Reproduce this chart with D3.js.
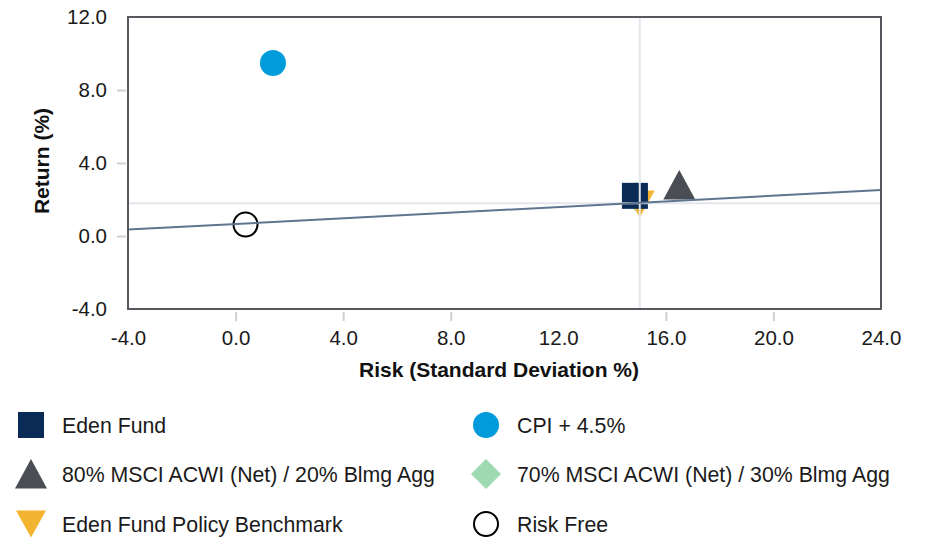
<!DOCTYPE html>
<html>
<head>
<meta charset="utf-8">
<script src="https://cdn.jsdelivr.net/npm/d3@7/dist/d3.min.js"></script>
<style>
  html, body { margin: 0; padding: 0; background: #fff; }
  svg { display: block; font-family: "Liberation Sans", Arial, sans-serif; }
</style>
</head>
<body>
<svg id="chart" width="926" height="540"></svg>
<script>
// ---- data ----
const seriesNames = ["Risk Free", "80% MSCI ACWI (Net) / 20% Blmg Agg", "70% MSCI ACWI (Net) / 30% Blmg Agg", "Eden Fund Policy Benchmark", "CPI + 4.5%", "Eden Fund"];
const riskValues   = [0.37, 16.5, 14.9, 15.03, 1.39, 14.85];
const returnValues = [0.63, 2.8, 2.15, 1.75, 9.48, 2.2];
const xTicks = [-4, 0, 4, 8, 12, 16, 20, 24];
const yTicks = [-4, 0, 4, 8, 12];
const benchmarkCross = [15.03, 1.8];          // crosshair at benchmark
const marketLineX = [-4, 24];
const marketLineY = [0.35, 2.52];
const legendOrder = ["Eden Fund", "CPI + 4.5%", "80% MSCI ACWI (Net) / 20% Blmg Agg", "70% MSCI ACWI (Net) / 30% Blmg Agg", "Eden Fund Policy Benchmark", "Risk Free"];

// ---- styles ----
const style = {
  "Eden Fund": { shape: "square", fill: "#0a2b55" },
  "CPI + 4.5%": { shape: "circle", fill: "#009bdb" },
  "80% MSCI ACWI (Net) / 20% Blmg Agg": { shape: "triangle", fill: "#4a4e54" },
  "70% MSCI ACWI (Net) / 30% Blmg Agg": { shape: "diamond", fill: "#9dd9b1" },
  "Eden Fund Policy Benchmark": { shape: "triangle-down", fill: "#f2b431" },
  "Risk Free": { shape: "circle-open", fill: "#fff", stroke: "#000" }
};

function symbolPath(shape) {
  switch (shape) {
    case "square": return "M-13,-13H13V13H-13Z";
    case "triangle": return "M0,-15L16,14.5H-16Z";
    case "triangle-down": return "M-15,-13.5H15L0,13.5Z";
    case "diamond": return "M0,-15L15,0L0,15L-15,0Z";
    case "circle": return "M-13,0A13,13 0 1,0 13,0A13,13 0 1,0 -13,0Z";
    case "circle-open": return "M-12,0A12,12 0 1,0 12,0A12,12 0 1,0 -12,0Z";
  }
}

const fmt = v => d3.format(".1f")(v).replace("\u2212", "-");

const svg = d3.select("#chart");
const L = 128, R = 881, T = 17, B = 309;
const x = d3.scaleLinear().domain([-4, 24]).range([L, R]);
const y = d3.scaleLinear().domain([-4, 12]).range([B, T]);

// frame
svg.append("rect").attr("x", L).attr("y", T).attr("width", R - L).attr("height", B - T)
  .attr("fill", "#fff").attr("stroke", "#55585c").attr("stroke-width", 2);

// axes
const xAxis = d3.axisBottom(x).tickValues(xTicks).tickFormat(fmt).tickSizeInner(9).tickSizeOuter(0).tickPadding(9);
const gx = svg.append("g").attr("transform", `translate(0,${B + 3})`).call(xAxis);
const yAxis = d3.axisLeft(y).tickValues(yTicks).tickFormat(fmt).tickSizeInner(9).tickSizeOuter(0).tickPadding(10);
const gy = svg.append("g").attr("transform", `translate(${L - 2},0)`).call(yAxis);
[gx, gy].forEach(g => {
  g.select(".domain").remove();
  g.selectAll(".tick line").attr("stroke", "#d0d0d0").attr("stroke-width", 2)
    .attr("display", d => (d === -4 || d === 24 || d === 12) ? "none" : null);
  g.selectAll(".tick text").attr("fill", "#1a1a1a").style("font-size", "20.5px");
});

// axis titles
svg.append("text").attr("x", 499).attr("y", 377).attr("text-anchor", "middle")
  .style("font-size", "21px").style("font-weight", "bold").attr("fill", "#111")
  .text("Risk (Standard Deviation %)");
svg.append("text").attr("transform", `translate(49,${(T + B) / 2 - 2}) rotate(-90)`).attr("text-anchor", "middle")
  .style("font-size", "21px").style("font-weight", "bold").attr("fill", "#111")
  .text("Return (%)");

// points
const points = seriesNames.map((n, i) => ({ name: n, risk: riskValues[i], ret: returnValues[i] }));
svg.append("defs").append("clipPath").attr("id", "plotclip")
  .append("rect").attr("x", L).attr("y", T).attr("width", R - L).attr("height", B - T);
svg.append("g").selectAll("path").data(points).join("path")
  .attr("transform", d => `translate(${x(d.risk)},${y(d.ret)})`)
  .attr("d", d => symbolPath(style[d.name].shape))
  .attr("fill", d => style[d.name].fill)
  .attr("stroke", d => style[d.name].stroke || "none")
  .attr("stroke-width", d => style[d.name].stroke ? 2 : 0);

// crosshair lines
const over = svg.append("g").attr("clip-path", "url(#plotclip)");
over.append("line").attr("x1", x(benchmarkCross[0])).attr("x2", x(benchmarkCross[0]))
  .attr("y1", T).attr("y2", B).attr("stroke", "#e3e6ea").attr("stroke-width", 2);
over.append("line").attr("x1", L).attr("x2", R)
  .attr("y1", y(benchmarkCross[1])).attr("y2", y(benchmarkCross[1])).attr("stroke", "#e3e6ea").attr("stroke-width", 2);

// capital market line
const lineData = marketLineX.map((v, i) => [v, marketLineY[i]]);
over.append("path").datum(lineData)
  .attr("d", d3.line().x(d => x(d[0])).y(d => y(d[1])))
  .attr("fill", "none").attr("stroke", "#5f7590").attr("stroke-width", 2);

// redraw frame edges on top
svg.append("rect").attr("x", L).attr("y", T).attr("width", R - L).attr("height", B - T)
  .attr("fill", "none").attr("stroke", "#55585c").attr("stroke-width", 2);

// legend
const legendCols = [31, 486];
const legendRows = [425, 474, 524];
const lg = svg.append("g").selectAll("g").data(legendOrder).join("g")
  .attr("transform", (d, i) => `translate(${legendCols[i % 2]},${legendRows[Math.floor(i / 2)]})`);
lg.append("path").attr("d", d => symbolPath(style[d].shape))
  .attr("fill", d => style[d].fill)
  .attr("stroke", d => style[d].stroke || "none")
  .attr("stroke-width", d => style[d].stroke ? 2 : 0);
lg.append("text").attr("x", 31).attr("y", 7.5).style("font-size", "21.3px").attr("fill", "#1a1a1a").text(d => d);
</script>
</body>
</html>
